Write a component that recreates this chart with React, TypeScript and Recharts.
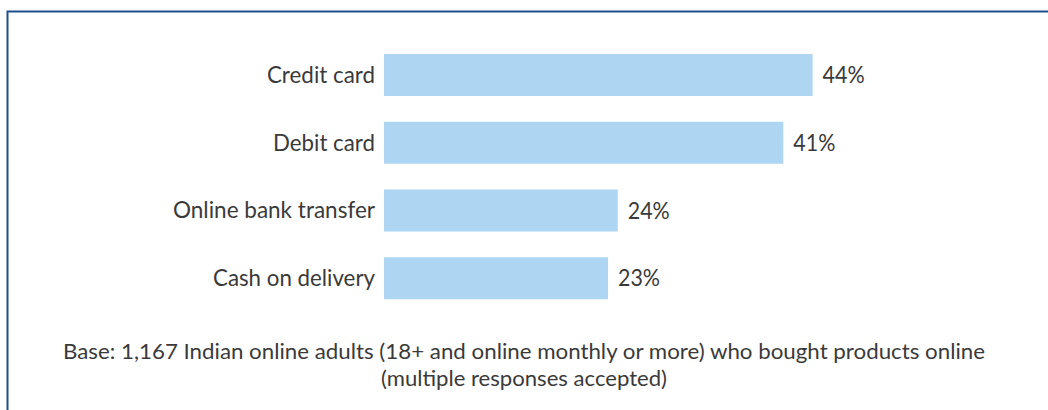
import React from "react";
import { BarChart, Bar, XAxis, YAxis, LabelList } from "recharts";

const methods = ["Credit card", "Debit card", "Online bank transfer", "Cash on delivery"];
const shares = [44, 41, 24, 23];
const noteLines = [
  "Base: 1,167 Indian online adults (18+ and online monthly or more) who bought products online",
  "(multiple responses accepted)",
];

// widths of the label texts in the original (condensed typeface)
const labelWidths: Record<string, number> = {
  "Credit card": 108,
  "Debit card": 102,
  "Online bank transfer": 202,
  "Cash on delivery": 162,
};

const data = methods.map((method, i) => ({ method, share: shares[i] }));

const FONT = "Lato, 'Open Sans', sans-serif";
const INK = "#3a3a3a";

function MethodTick(props: any) {
  const { x, y, payload } = props;
  return (
    <text
      x={x}
      y={y + 8}
      textAnchor="end"
      fontSize={24}
      fontFamily={FONT}
      fill={INK}
      textLength={labelWidths[payload.value]}
      lengthAdjust="spacingAndGlyphs"
    >
      {payload.value}
    </text>
  );
}

function ValueLabel(props: any) {
  const { x, y, width, height, value } = props;
  return (
    <text
      x={x + width + 10}
      y={y + height / 2 + 8}
      fontSize={24}
      fontFamily={FONT}
      fill={INK}
      textLength={42}
      lengthAdjust="spacingAndGlyphs"
    >
      {`${value}%`}
    </text>
  );
}

export default function App() {
  return (
    <div style={{ position: "absolute", left: 0, top: 0, width: 1048, height: 410, background: "#fff" }}>
      <BarChart
        width={1048}
        height={410}
        layout="vertical"
        data={data}
        margin={{ top: 41, right: 177, bottom: 98, left: 0 }}
        barSize={42}
      >
        <XAxis type="number" domain={[0, 50]} hide />
        <YAxis
          type="category"
          dataKey="method"
          width={384}
          axisLine={false}
          tickLine={false}
          tickSize={0}
          tickMargin={9}
          tick={<MethodTick />}
        />
        <Bar dataKey="share" fill="#aed6f3" isAnimationActive={false}>
          <LabelList dataKey="share" content={<ValueLabel />} />
        </Bar>
      </BarChart>
      <svg width={1048} height={410} style={{ position: "absolute", left: 0, top: 0, pointerEvents: "none" }}>
        <path d="M7.5 410 L7.5 11.5 L1048 11.5" fill="none" stroke="#1f4e8c" strokeWidth={2} />
        <text x={524} y={359} textAnchor="middle" fontSize={22} fontFamily={FONT} fill={INK} textLength={922} lengthAdjust="spacingAndGlyphs">
          {noteLines[0]}
        </text>
        <text x={524} y={386} textAnchor="middle" fontSize={22} fontFamily={FONT} fill={INK} textLength={286} lengthAdjust="spacingAndGlyphs">
          {noteLines[1]}
        </text>
      </svg>
    </div>
  );
}
